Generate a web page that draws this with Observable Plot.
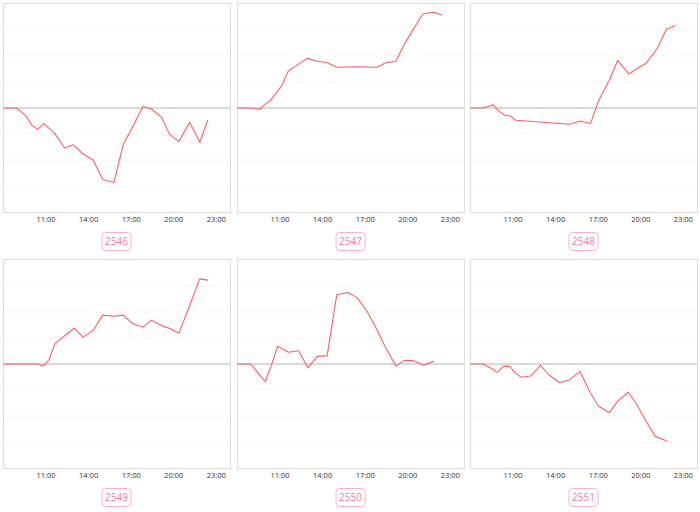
<!DOCTYPE html>
<html>
<head>
<meta charset="utf-8">
<script src="https://cdn.jsdelivr.net/npm/d3@7"></script>
<script src="https://cdn.jsdelivr.net/npm/@observablehq/plot@0.6"></script>
<style>
  html, body { margin: 0; padding: 0; background: #fff; }
  body { width: 700px; height: 512px; position: relative; overflow: hidden; font-family: "Open Sans", "DejaVu Sans", sans-serif; }
  .cell { position: absolute; width: 233px; height: 256px; }
  .cell svg { display: block; }
  .tag { position: absolute; left: 50%; top: 232px; transform: translateX(-50%);
         border: 1px solid #ffb0c6; border-radius: 4px; color: #f4789c;
         font-size: 10px; line-height: 17px; padding: 0 3px; background: #fff; }
</style>
</head>
<body>
<script>
// ---- data (hour offsets as "HH:MM", values in grid units) ----
const names = ["2546", "2547", "2548", "2549", "2550", "2551"];

const times2546 = ["08:00","08:55","09:36","09:57","10:24","10:50","11:35","12:19","12:55","13:37","14:19","15:00","15:47","16:26","17:07","17:50","18:25","19:10","19:42","20:22","21:07","21:50","22:24"];
const values2546 = [0,0,-0.31,-0.63,-0.82,-0.60,-0.95,-1.53,-1.41,-1.76,-1.99,-2.74,-2.85,-1.41,-0.71,0.06,-0.03,-0.37,-1.01,-1.28,-0.55,-1.31,-0.47];

const times2547 = ["08:00","08:55","09:36","09:54","10:20","11:09","11:35","12:55","13:37","14:19","15:00","16:26","17:50","18:25","19:10","19:42","20:22","21:04","21:50","22:24"];
const values2547 = [0,0,-0.05,0.13,0.29,0.88,1.42,1.90,1.79,1.73,1.56,1.58,1.56,1.72,1.79,2.38,2.99,3.60,3.67,3.56];

const times2548 = ["08:00","08:53","09:36","10:00","10:25","10:50","11:11","15:00","15:45","16:28","17:02","17:46","18:22","19:10","19:45","20:20","21:07","21:49","22:24"];
const values2548 = [0,0,0.12,-0.12,-0.28,-0.31,-0.47,-0.62,-0.50,-0.59,0.29,1.04,1.82,1.30,1.51,1.69,2.24,3.01,3.15];

const times2549 = ["08:00","10:22","10:48","11:13","11:37","12:58","13:37","14:19","15:00","15:47","16:26","17:07","17:50","18:25","19:10","19:42","20:22","21:07","21:50","22:24"];
const values2549 = [0,0,-0.08,0.17,0.77,1.37,1.03,1.28,1.87,1.83,1.87,1.54,1.41,1.68,1.46,1.37,1.18,2.23,3.26,3.21];

const times2550 = ["08:00","08:55","09:26","09:57","10:22","10:50","11:35","12:18","12:58","13:37","14:19","15:00","15:47","16:26","17:07","17:50","18:25","19:10","19:46","20:22","21:07","21:50"];
const values2550 = [0,0,-0.33,-0.67,-0.08,0.68,0.45,0.51,-0.14,0.29,0.31,2.65,2.74,2.54,2.03,1.31,0.65,-0.08,0.14,0.13,-0.05,0.10];

const times2551 = ["08:00","08:53","09:29","09:53","10:21","10:46","11:11","11:35","12:15","12:56","13:35","14:15","14:57","15:43","16:25","17:02","17:46","18:25","19:08","19:42","20:20","21:02","21:49"];
const values2551 = [0,0,-0.17,-0.32,-0.08,-0.09,-0.36,-0.51,-0.46,-0.05,-0.44,-0.71,-0.62,-0.28,-1.08,-1.62,-1.86,-1.40,-1.08,-1.53,-2.15,-2.78,-2.94];

const xTickLabels = ["11:00","14:00","17:00","20:00","23:00"];
const xDomainLabels = ["08:00","24:00"];
const yDomain = [-4, 4];
const yGrid = [-3, -2, -1, 1, 2, 3];

const seriesTimes = [times2546, times2547, times2548, times2549, times2550, times2551];
const seriesValues = [values2546, values2547, values2548, values2549, values2550, values2551];

// ---- build ----
function toDate(s) {
  const [h, m] = s.split(":").map(Number);
  return new Date(Date.UTC(2020, 0, 1, h, m));
}
const cellLeft = [0, 234, 467];
const cellTop = [0, 256];

names.forEach((name, i) => {
  const data = seriesTimes[i].map((t, j) => ({t: toDate(t), v: seriesValues[i][j]}));
  const cell = document.createElement("div");
  cell.className = "cell";
  cell.style.left = cellLeft[i % 3] + "px";
  cell.style.top = cellTop[Math.floor(i / 3)] + "px";

  const chart = Plot.plot({
    width: 233,
    height: 228,
    marginLeft: 3,
    marginRight: 3,
    marginTop: 3,
    marginBottom: 16,
    style: {fontSize: "7.5px", fontFamily: "'Open Sans', sans-serif", color: "#333", background: "#fff"},
    x: {type: "utc", domain: xDomainLabels.map(toDate), ticks: xTickLabels.map(toDate), tickFormat: d3.utcFormat("%H:%M"), tickSize: 0, tickPadding: 4, label: null},
    y: {domain: yDomain, axis: null},
    marks: [
      Plot.gridY(yGrid, {stroke: "#f5f5f5", strokeOpacity: 1}),
      Plot.ruleY([0], {stroke: "#cccccc", strokeWidth: 1.6}),
      Plot.frame({stroke: "#dddddd"}),
      Plot.line(data, {x: "t", y: "v", stroke: "#ff5e62", strokeWidth: 1.1})
    ]
  });
  cell.appendChild(chart);
  const tag = document.createElement("div");
  tag.className = "tag";
  tag.textContent = name;
  cell.appendChild(tag);
  document.body.appendChild(cell);
});
</script>
</body>
</html>
